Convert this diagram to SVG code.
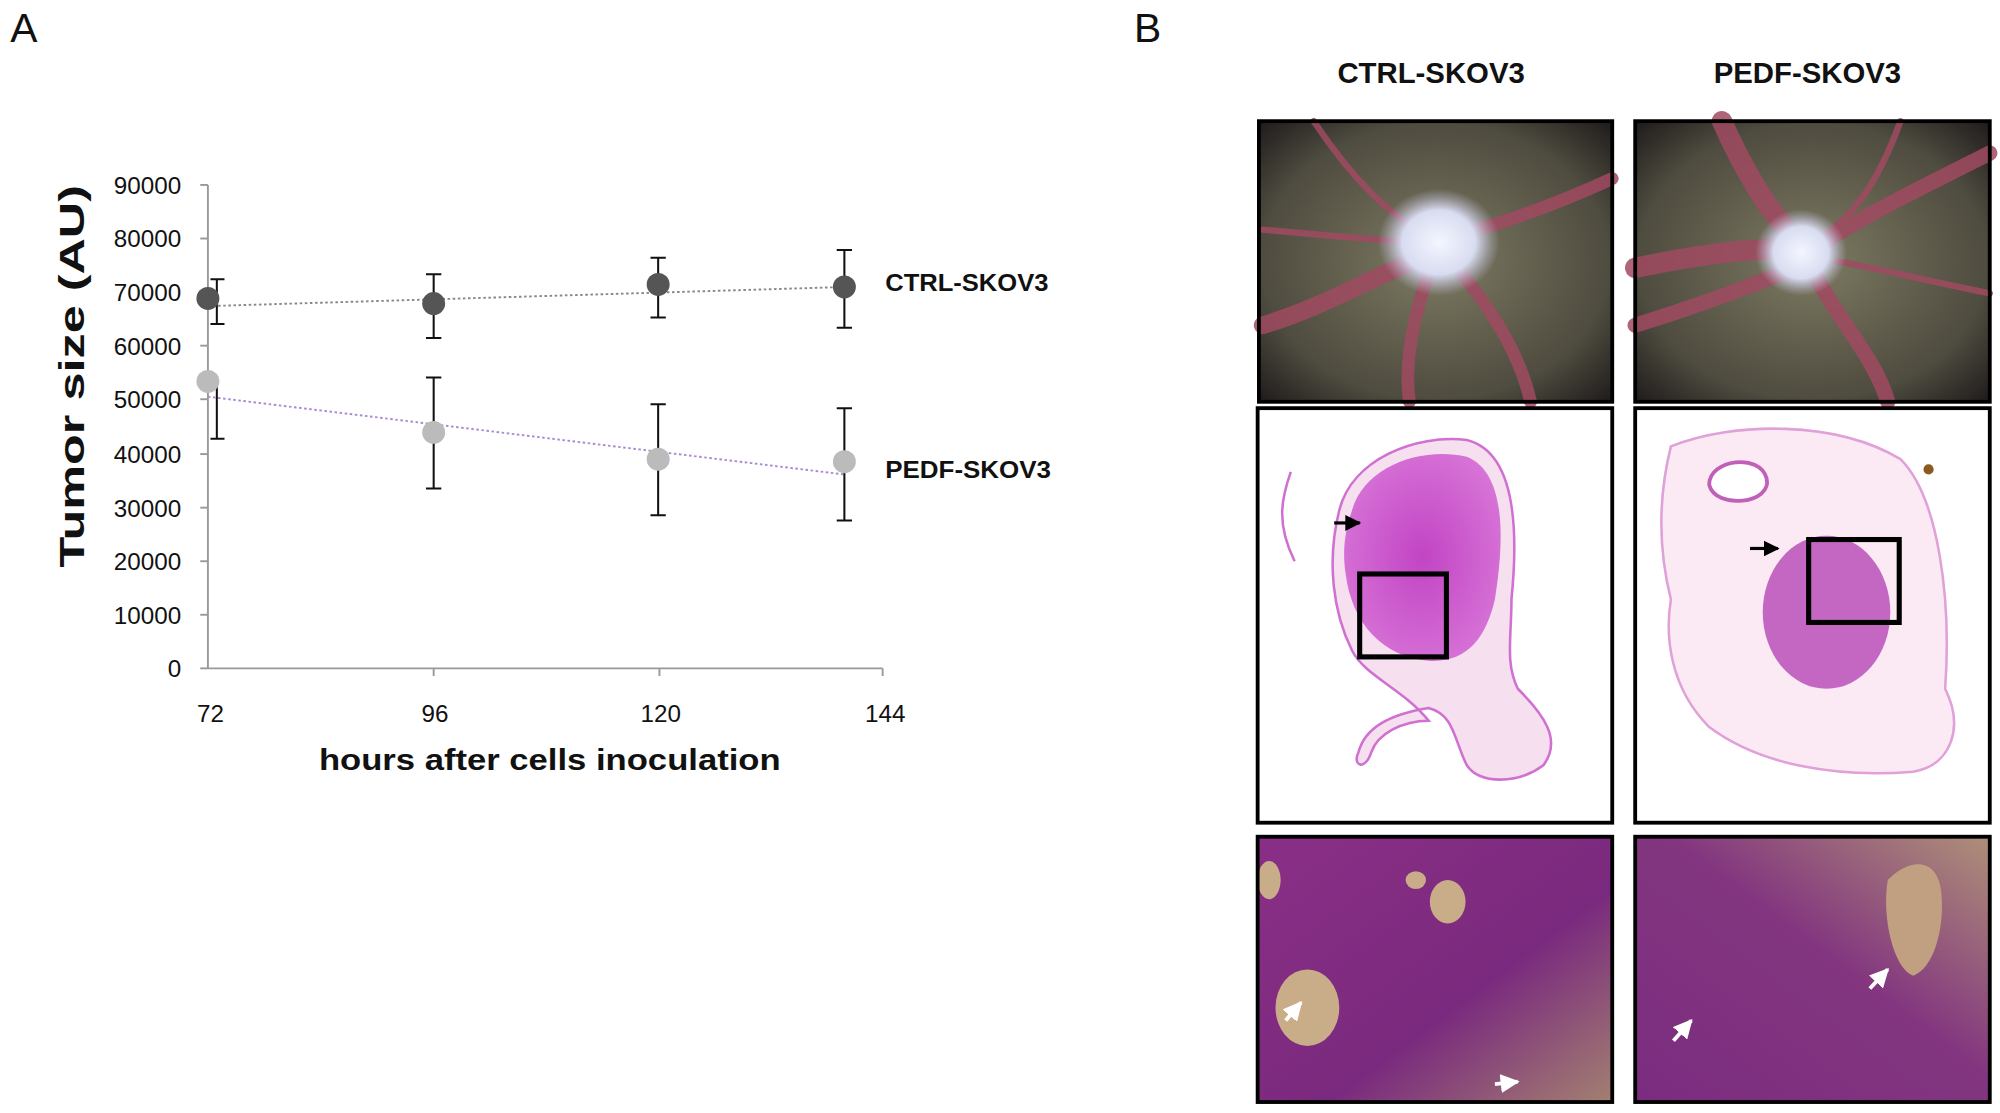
<svg xmlns="http://www.w3.org/2000/svg" width="2000" height="1113" viewBox="0 0 2000 1113">
<style>
.t{font-family:"Liberation Sans",Arial,sans-serif;fill:#111}
.tk{font-size:19px}
.lab{font-size:19px;font-weight:bold}
.eb{stroke:#111;stroke-width:1.6;fill:none}
.frame{fill:none;stroke:#000;stroke-width:3}
.vein{fill:none;stroke:#a04a60;stroke-linecap:round;opacity:.85}
</style>
<defs>
<radialGradient id="egg" cx="0.5" cy="0.5" r="0.7"><stop offset="0" stop-color="#7d7a62"/><stop offset="0.7" stop-color="#4f4c40"/><stop offset="1" stop-color="#1f1c1c"/></radialGradient>
<radialGradient id="blob" cx="0.5" cy="0.5" r="0.5"><stop offset="0" stop-color="#f4f6ff"/><stop offset="0.6" stop-color="#d8dcf0"/><stop offset="1" stop-color="#b9b4cf" stop-opacity="0"/></radialGradient>
<radialGradient id="he" cx="0.5" cy="0.5" r="0.6"><stop offset="0" stop-color="#c244c4"/><stop offset="1" stop-color="#d876d8"/></radialGradient>
<linearGradient id="tis" x1="0" y1="0" x2="1" y2="1"><stop offset="0" stop-color="#8a2e86"/><stop offset="0.6" stop-color="#7a2a7e"/><stop offset="1" stop-color="#a38070"/></linearGradient>
<linearGradient id="tis2" x1="0" y1="1" x2="1" y2="0"><stop offset="0" stop-color="#7b2c80"/><stop offset="0.55" stop-color="#83367f"/><stop offset="1" stop-color="#ae9078"/></linearGradient>
<marker id="ar" viewBox="0 0 10 10" refX="9" refY="5" markerWidth="5" markerHeight="5" orient="auto"><path d="M0,0L10,5L0,10z" fill="#000"/></marker>
<marker id="aw" viewBox="0 0 10 10" refX="9" refY="5" markerWidth="5" markerHeight="5" orient="auto"><path d="M0,0L10,5L0,10z" fill="#fff"/></marker>
</defs>
<rect width="2000" height="1113" fill="#fff"/>
<g transform="scale(1.2755)">
<text class="t" x="8" y="33" font-size="32">A</text>
<text class="t" x="889" y="33" font-size="32">B</text>

<g id="chart">
<line x1="163" y1="145" x2="163" y2="524" stroke="#999" stroke-width="1.5"/>
<line x1="163" y1="524" x2="692" y2="524" stroke="#999" stroke-width="1.5"/>
<g stroke="#999" stroke-width="1.5">
<line x1="157" y1="145" x2="163" y2="145"/><line x1="157" y1="187" x2="163" y2="187"/><line x1="157" y1="229" x2="163" y2="229"/><line x1="157" y1="271" x2="163" y2="271"/><line x1="157" y1="313" x2="163" y2="313"/><line x1="157" y1="356" x2="163" y2="356"/><line x1="157" y1="398" x2="163" y2="398"/><line x1="157" y1="440" x2="163" y2="440"/><line x1="157" y1="482" x2="163" y2="482"/><line x1="157" y1="524" x2="163" y2="524"/>
<line x1="340" y1="524" x2="340" y2="530"/><line x1="517" y1="524" x2="517" y2="530"/><line x1="692" y1="524" x2="692" y2="530"/>
</g>
<g class="t tk" text-anchor="end">
<text x="142" y="152">90000</text><text x="142" y="194">80000</text><text x="142" y="236">70000</text><text x="142" y="278">60000</text><text x="142" y="320">50000</text><text x="142" y="363">40000</text><text x="142" y="405">30000</text><text x="142" y="447">20000</text><text x="142" y="489">10000</text><text x="142" y="531">0</text>
</g>
<g class="t tk" text-anchor="middle">
<text x="165" y="566">72</text><text x="341" y="566">96</text><text x="518" y="566">120</text><text x="694" y="566">144</text>
</g>
<text class="t" x="250" y="604" font-size="23" font-weight="bold" textLength="362" lengthAdjust="spacingAndGlyphs">hours after cells inoculation</text>
<text class="t" transform="translate(66,445) rotate(-90)" font-size="28" font-weight="bold" textLength="300" lengthAdjust="spacingAndGlyphs">Tumor size (AU)</text>
</g>

<g id="connectors">
<line x1="163" y1="240" x2="662" y2="225" stroke="#888" stroke-width="1.5" stroke-dasharray="2,2"/>
<line x1="163" y1="311" x2="662" y2="372" stroke="#a98bd0" stroke-width="1.5" stroke-dasharray="2,2"/>
</g>

<g id="ctrl-series">
<path class="eb" d="M170,219V254M165,219H176M165,254H176 M340,215V265M334,215H346M334,265H346 M516,202V249M510,202H522M510,249H522 M662,196V257M656,196H668M656,257H668"/>
<g fill="#555"><circle cx="163" cy="234" r="9"/><circle cx="340" cy="238" r="9"/><circle cx="516" cy="223" r="9"/><circle cx="662" cy="225" r="9"/></g>
<text class="t lab" x="694" y="228" textLength="128" lengthAdjust="spacingAndGlyphs">CTRL-SKOV3</text>
</g>
<g id="pedf-series">
<path class="eb" d="M170,300V344M165,344H176 M340,296V383M334,296H346M334,383H346 M516,317V404M510,317H522M510,404H522 M662,320V408M656,320H668M656,408H668"/>
<g fill="#bbb"><circle cx="163" cy="299" r="9"/><circle cx="340" cy="339" r="9"/><circle cx="516" cy="360" r="9"/><circle cx="662" cy="362" r="9"/></g>
<text class="t lab" x="694" y="375" textLength="130" lengthAdjust="spacingAndGlyphs">PEDF-SKOV3</text>
</g>

<text class="t" x="1122" y="65" text-anchor="middle" font-size="23" font-weight="bold">CTRL-SKOV3</text>
<text class="t" x="1417" y="65" text-anchor="middle" font-size="23" font-weight="bold">PEDF-SKOV3</text>

<g id="photo-ctrl-top">
<rect x="987" y="95" width="277" height="220" fill="url(#egg)"/>
<path class="vein" stroke-width="14" d="M990,255C1040,240 1080,215 1130,195"/>
<path class="vein" stroke-width="10" d="M1264,140C1220,160 1180,175 1140,185M1130,195C1160,230 1190,270 1200,315M1125,200C1110,240 1100,280 1105,315"/>
<path class="vein" stroke-width="5" d="M1030,95C1060,140 1090,170 1120,185M990,180C1040,185 1080,188 1110,190"/>
<ellipse cx="1128" cy="190" rx="48" ry="42" fill="url(#blob)"/>
<rect x="987" y="95" width="277" height="220" class="frame"/>
</g>
<g id="photo-pedf-top">
<rect x="1282" y="95" width="278" height="220" fill="url(#egg)"/>
<path class="vein" stroke-width="16" d="M1350,95C1370,140 1390,170 1410,190M1282,210C1330,200 1370,195 1400,195"/>
<path class="vein" stroke-width="12" d="M1560,120C1500,150 1460,170 1430,190M1420,210C1440,250 1470,280 1480,315M1282,255C1330,240 1370,225 1395,215"/>
<path class="vein" stroke-width="5" d="M1490,95C1470,150 1450,170 1430,185M1560,230C1510,220 1470,210 1440,205"/>
<ellipse cx="1412" cy="198" rx="36" ry="34" fill="url(#blob)"/>
<rect x="1282" y="95" width="278" height="220" class="frame"/>
</g>
<g id="photo-ctrl-mid">
<rect x="986" y="320" width="278" height="325" fill="#fff"/>
<path d="M1050,400C1060,360 1110,340 1150,345C1190,355 1190,420 1185,470C1185,500 1180,520 1190,540C1210,560 1225,580 1210,600C1190,615 1160,615 1150,600C1140,580 1140,560 1120,555C1090,560 1070,570 1065,590C1060,600 1070,605 1075,590C1080,575 1100,565 1120,565C1100,540 1070,530 1060,510C1045,480 1040,440 1050,400Z" fill="#f6e0f0" stroke="#d070d0" stroke-width="2"/>
<path d="M1012,370C1005,390 1000,410 1015,440" fill="none" stroke="#d070d0" stroke-width="2"/>
<path d="M1060,400C1070,365 1115,350 1150,358C1180,370 1180,420 1172,470C1165,500 1150,520 1120,518C1085,515 1060,490 1055,450C1052,430 1055,415 1060,400Z" fill="url(#he)"/>
<rect x="1066" y="450" width="68" height="65" fill="none" stroke="#000" stroke-width="4"/>
<line x1="1046" y1="410" x2="1066" y2="410" stroke="#000" stroke-width="2.5" marker-end="url(#ar)"/>
<rect x="986" y="320" width="278" height="325" class="frame"/>
</g>
<g id="photo-pedf-mid">
<rect x="1282" y="320" width="278" height="325" fill="#fff"/>
<path d="M1310,350C1360,330 1440,330 1490,360C1520,390 1530,470 1525,540C1540,570 1530,600 1500,605C1440,610 1380,600 1340,570C1310,540 1305,500 1310,470C1300,430 1300,390 1310,350Z" fill="#fbeaf4" stroke="#e0a0d8" stroke-width="2"/>
<path d="M1340,380C1340,360 1380,355 1385,375C1390,395 1345,400 1340,380Z" fill="#fff" stroke="#c060b8" stroke-width="3"/>
<ellipse cx="1432" cy="480" rx="50" ry="60" fill="#b850b8" opacity=".85"/>
<rect x="1418" y="423" width="71" height="65" fill="none" stroke="#000" stroke-width="4"/>
<line x1="1372" y1="430" x2="1394" y2="430" stroke="#000" stroke-width="2.5" marker-end="url(#ar)"/>
<circle cx="1512" cy="368" r="4" fill="#8a5a20"/>
<rect x="1282" y="320" width="278" height="325" class="frame"/>
</g>
<g id="photo-ctrl-bot">
<rect x="986" y="656" width="278" height="208" fill="url(#tis)"/>
<ellipse cx="1025" cy="790" rx="25" ry="30" fill="#c8ad88"/>
<ellipse cx="1135" cy="707" rx="14" ry="17" fill="#c8ad88"/>
<ellipse cx="995" cy="690" rx="9" ry="15" fill="#c8ad88"/>
<ellipse cx="1110" cy="690" rx="8" ry="7" fill="#c8ad88"/>
<line x1="1008" y1="800" x2="1020" y2="786" stroke="#fff" stroke-width="3" marker-end="url(#aw)"/>
<line x1="1172" y1="850" x2="1190" y2="848" stroke="#fff" stroke-width="3" marker-end="url(#aw)"/>
<rect x="986" y="656" width="278" height="208" class="frame" stroke-width="2"/>
</g>
<g id="photo-pedf-bot">
<rect x="1282" y="656" width="278" height="208" fill="url(#tis2)"/>
<path d="M1480,690C1500,670 1520,675 1522,700C1525,730 1515,760 1500,765C1485,760 1475,720 1480,690Z" fill="#c0a080"/>
<line x1="1312" y1="816" x2="1326" y2="800" stroke="#fff" stroke-width="3" marker-end="url(#aw)"/>
<line x1="1466" y1="775" x2="1480" y2="760" stroke="#fff" stroke-width="3" marker-end="url(#aw)"/>
<rect x="1282" y="656" width="278" height="208" class="frame" stroke-width="2"/>
</g>
</g>
</svg>
